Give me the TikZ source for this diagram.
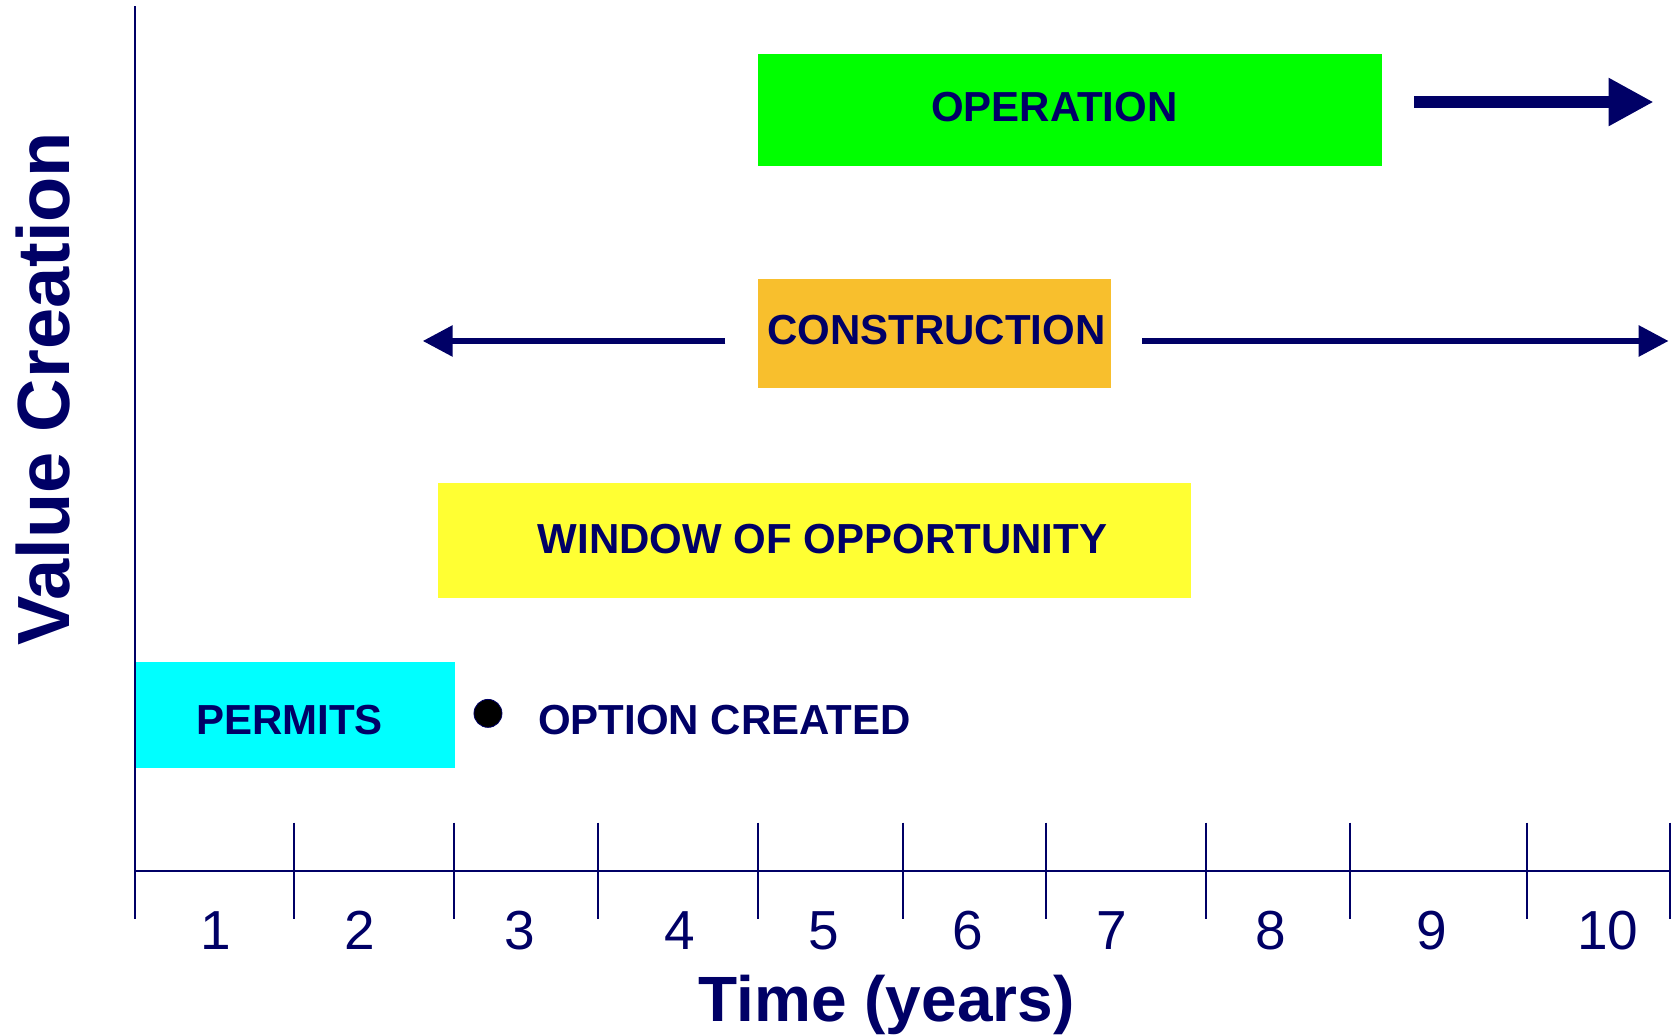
\documentclass[tikz,border=0pt]{standalone}
\usepackage{fontspec}
\setmainfont{Liberation Sans}
\usetikzlibrary{arrows.meta}
\definecolor{navy}{RGB}{0,0,102}
\definecolor{opgreen}{RGB}{0,255,0}
\definecolor{conorange}{RGB}{248,191,45}
\definecolor{winyellow}{RGB}{255,255,51}
\definecolor{permcyan}{RGB}{0,255,255}
\begin{document}
\begin{tikzpicture}[x=1.06824pt,y=-1.06824pt,
  box/.style={rectangle, inner sep=0pt, draw=none},
  boxtext/.style={text=navy, font=\fontsize{42}{48}\selectfont\bfseries, inner sep=0pt},
  axisline/.style={draw=navy, line width=2pt},
  bigarrow/.style={draw=navy, line width=12.3pt, -{Triangle[length=45pt,width=45pt]}},
  thinarrow/.style={draw=navy, line width=6pt, -{Triangle[length=30pt,width=30pt]}},
  numlabel/.style={text=navy, font=\fontsize{55}{60}\selectfont, inner sep=0pt, anchor=base},
]
\useasboundingbox (0,0) rectangle (1568,968);

% boxes
\node[box, fill=opgreen, minimum width=623.9pt, minimum height=111.1pt] (op) at (1002,103) {};
\node[boxtext] (optext) at (987,100) {OPERATION};
\node[box, fill=conorange, minimum width=352.5pt, minimum height=109pt] (con) at (875,312) {};
\node[boxtext] (context) at (876.5,308.5) {CONSTRUCTION};
\node[box, fill=winyellow, minimum width=753.1pt, minimum height=115.4pt] (win) at (762.5,506) {};
\node[boxtext] (wintext) at (770,505) {WINDOW OF OPPORTUNITY};
\node[box, fill=permcyan, minimum width=320.5pt, minimum height=105.8pt] (perm) at (276,669.5) {};
\node[boxtext] (permtext) at (271,674.5) {PERMITS};

% option created
\node[circle, fill=black, draw=navy, line width=0.8pt, minimum size=28pt, inner sep=0pt] (dot) at (456.8,667.8) {};
\node[boxtext, anchor=west] (opt) at (503.6,674.5) {OPTION CREATED};

% arrows
\coordinate (opstart) at (1324,95.5);
\coordinate (opend) at (1548,95.5);
\draw[bigarrow] (opstart) -- (opend);
\coordinate (lstart) at (679,319.2);
\coordinate (lend) at (395.7,319.2);
\draw[thinarrow] (lstart) -- (lend);
\coordinate (rstart) at (1069.5,319.2);
\coordinate (rend) at (1562,319.2);
\draw[thinarrow] (rstart) -- (rend);

% axes
\coordinate (ytop) at (126,6);
\coordinate (ybot) at (126,860);
\coordinate (xleft) at (126,815);
\coordinate (xright) at (1563,815);
\draw[axisline] (ytop) -- (ybot);
\draw[axisline] (xleft) -- (xright);
\foreach \t in {275,425,560,710,845,979,1129,1264,1429,1563}
  \draw[axisline] (\t,770) -- (\t,860);

% numbers
\foreach \x/\n in {202/1,337/2,487/3,636/4,771/5,906/6,1041/7,1190/8,1340/9,1505/10}
  \node[numlabel] (num\n) at (\x,888.4) {\n};

% axis titles
\node[text=navy, font=\fontsize{64}{70}\selectfont\bfseries, inner sep=0pt, anchor=base] (xtitle) at (830,956) {Time (years)};
\node[text=navy, font=\fontsize{74}{80}\selectfont\bfseries, inner sep=0pt, anchor=base, rotate=90] (ytitle) at (65.5,364) {Value Creation};
\end{tikzpicture}
\end{document}
